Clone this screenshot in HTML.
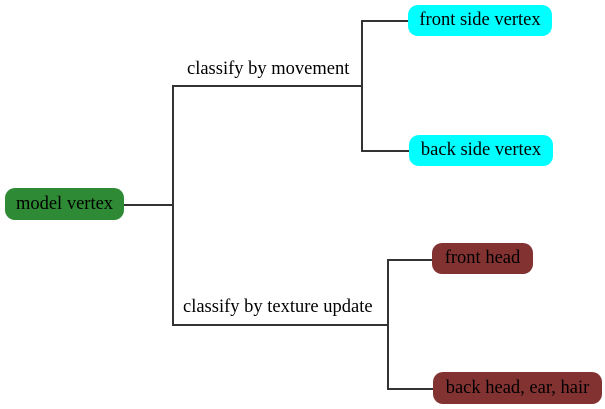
<!DOCTYPE html>
<html><head><style>
body{margin:0;background:#fff;width:605px;height:409px;position:relative;overflow:hidden;font-family:"Liberation Serif",serif;font-size:18.5px;}
.b{position:absolute;border-radius:10px;color:#000;display:flex;align-items:center;justify-content:center;white-space:nowrap;}
.l{position:absolute;background:#333;}
.t{position:absolute;white-space:nowrap;}
</style></head><body>
<div class="b" style="left:5px;top:188px;width:119px;height:32px;background:#2e8a34">model vertex</div>
<div class="b" style="left:408px;top:5px;width:144px;height:31px;background:#00ffff">front side vertex</div>
<div class="b" style="left:409px;top:135px;width:144px;height:31px;background:#00ffff">back side vertex</div>
<div class="b" style="left:432px;top:243px;width:101px;height:31px;background:#833232">front head</div>
<div class="b" style="left:433px;top:372px;width:169px;height:32px;background:#833232">back head, ear, hair</div>
<div class="l" style="left:124px;top:204px;width:49px;height:1.5px"></div>
<div class="l" style="left:172px;top:85px;width:1.5px;height:240px"></div>
<div class="l" style="left:173px;top:85px;width:189px;height:1.5px"></div>
<div class="l" style="left:361px;top:20px;width:1.5px;height:131px"></div>
<div class="l" style="left:361px;top:20px;width:47px;height:1.5px"></div>
<div class="l" style="left:361px;top:150px;width:48px;height:1.5px"></div>
<div class="l" style="left:172px;top:324px;width:216px;height:1.5px"></div>
<div class="l" style="left:387px;top:259px;width:1.5px;height:129px"></div>
<div class="l" style="left:387px;top:259px;width:45px;height:1.5px"></div>
<div class="l" style="left:387px;top:388px;width:46px;height:1.5px"></div>
<div class="t" style="left:187px;top:59px">classify by movement</div>
<div class="t" style="left:183px;top:297px">classify by texture update</div>
</body></html>
